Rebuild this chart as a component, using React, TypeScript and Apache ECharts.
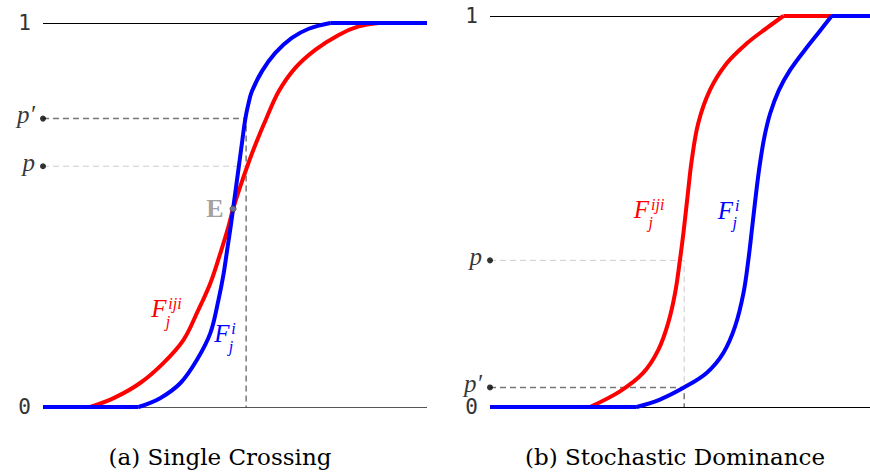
import React, { useEffect, useRef } from "react";
import * as echarts from "echarts";

// ---------- data ----------
const RED = "#ff0000";
const BLUE = "#0000ff";

// Panel (a) Single Crossing — rising part of each CDF (flat at 0 before, flat at 1 after)
const redA: number[][] = [
  [0.123, 0], [0.184, 0.023], [0.253, 0.0625], [0.314, 0.115], [0.366, 0.175],
  [0.401, 0.245], [0.436, 0.323], [0.462, 0.401], [0.483, 0.47], [0.495, 0.516],
  [0.514, 0.575], [0.532, 0.627], [0.553, 0.683], [0.581, 0.75], [0.614, 0.822],
  [0.657, 0.883], [0.709, 0.93], [0.77, 0.969], [0.822, 0.991], [0.874, 1],
];
const blueA: number[][] = [
  [0.249, 0], [0.305, 0.023], [0.358, 0.0625], [0.401, 0.123], [0.436, 0.193],
  [0.457, 0.279], [0.47, 0.345], [0.479, 0.405], [0.488, 0.465], [0.495, 0.516],
  [0.503, 0.575], [0.511, 0.634], [0.519, 0.694], [0.527, 0.751], [0.535, 0.79],
  [0.544, 0.822], [0.57, 0.874], [0.605, 0.922], [0.648, 0.961], [0.692, 0.985],
  [0.748, 1],
];
const pA = 0.627;
const pPrimeA = 0.751;
const crossX_A = 0.529;
const pointE = [0.495, 0.516];

// Panel (b) Stochastic Dominance
const redB: number[][] = [
  [0.263, 0], [0.342, 0.04], [0.403, 0.087], [0.443, 0.146], [0.469, 0.215],
  [0.487, 0.291], [0.5, 0.377], [0.509, 0.445], [0.52, 0.54], [0.531, 0.632],
  [0.548, 0.726], [0.579, 0.811], [0.623, 0.879], [0.676, 0.93], [0.728, 0.969],
  [0.772, 1],
];
const blueB: number[][] = [
  [0.386, 0], [0.447, 0.019], [0.509, 0.049], [0.57, 0.087], [0.614, 0.138],
  [0.645, 0.206], [0.667, 0.291], [0.68, 0.377], [0.69, 0.46], [0.7, 0.545],
  [0.71, 0.62], [0.722, 0.69], [0.737, 0.75], [0.76, 0.81], [0.79, 0.862],
  [0.83, 0.915], [0.865, 0.958], [0.899, 1],
];
const pB = 0.375;
const pPrimeB = 0.05;
const crossX_B = 0.511;

const yTicks = ["0", "1"];
const captions = ["(a) Single Crossing", "(b) Stochastic Dominance"];

// curve labels: grid, anchor x, anchor y, superscript, color
const curveLabels = [
  { grid: 0, x: 0.3016, y: 0.256, sup: "iji", color: RED },
  { grid: 0, x: 0.4656, y: 0.191, sup: "i", color: BLUE },
  { grid: 1, x: 0.3987, y: 0.504, sup: "iji", color: RED },
  { grid: 1, x: 0.6197, y: 0.503, sup: "i", color: BLUE },
];

const MATH = "Liberation Serif";
const TEXT = "DejaVu Serif";

function lineSeries(data: number[][], color: string, gi: number, z: number, smooth: number) {
  return {
    type: "line",
    xAxisIndex: gi,
    yAxisIndex: gi,
    data,
    smooth,
    showSymbol: false,
    symbol: "none",
    lineStyle: { color, width: 4, cap: "butt", join: "round" },
    z,
  };
}

// a CDF: flat at 0 up to its first point, the smooth rise, flat at 1 after its last point
function cdfSeries(data: number[][], color: string, gi: number, z: number) {
  const first = data[0];
  const last = data[data.length - 1];
  return [
    lineSeries([[0, first[1]], first], color, gi, z, 0),
    lineSeries(data, color, gi, z, 0.35),
    lineSeries([last, [1, last[1]]], color, gi, z, 0),
  ];
}

function dashSeries(data: number[][], color: string, width: number, gi: number) {
  return {
    type: "line",
    xAxisIndex: gi,
    yAxisIndex: gi,
    data,
    showSymbol: false,
    symbol: "none",
    lineStyle: { color, width, type: [6, 4] },
    z: 2,
  };
}

function dotSeries(gi: number, pts: { v: number; label: string }[]) {
  return {
    type: "scatter",
    xAxisIndex: gi,
    yAxisIndex: gi,
    clip: false,
    symbolSize: 6,
    itemStyle: { color: "#000" },
    z: 6,
    data: pts.map((p) => ({
      value: [0, p.v],
      label: {
        show: true,
        position: "left",
        distance: 5,
        offset: [0, -4],
        formatter: p.label,
        fontFamily: MATH,
        fontStyle: "italic",
        fontSize: 25,
        color: "#000",
      },
    })),
  };
}

function labelSeries(gi: number) {
  const items = curveLabels.filter((l) => l.grid === gi);
  return {
    type: "custom",
    xAxisIndex: gi,
    yAxisIndex: gi,
    clip: false,
    z: 7,
    data: items.map((l) => [l.x, l.y]),
    renderItem: (params: any, api: any) => {
      const l = items[params.dataIndex];
      const pt = api.coord([api.value(0), api.value(1)]);
      const base = {
        fill: l.color,
        fontFamily: MATH,
        fontStyle: "italic",
        verticalAlign: "middle",
      };
      return {
        type: "group",
        x: pt[0],
        y: pt[1],
        children: [
          { type: "text", style: { ...base, text: "F", x: 0, y: 0, align: "center", fontSize: 25 } },
          { type: "text", style: { ...base, text: l.sup, x: 9.5, y: -5, align: "left", fontSize: 16 } },
          { type: "text", style: { ...base, text: "j", x: 7, y: 12.5, align: "left", fontSize: 16 } },
        ],
      };
    },
  };
}

function yAxis(gi: number, bottomColor: string) {
  return {
    type: "value",
    gridIndex: gi,
    min: 0,
    max: 1,
    interval: 1,
    axisLine: { show: false },
    axisTick: { show: false },
    axisLabel: {
      margin: 12,
      fontFamily: "DejaVu Sans Mono",
      fontSize: 21,
      color: "#333",
      formatter: (v: number) => yTicks[Math.round(v)],
    },
    splitLine: { show: true, lineStyle: { color: [bottomColor, "#000"], width: 1 } },
  };
}

function xAxis(gi: number) {
  return { type: "value", gridIndex: gi, min: 0, max: 1, show: false };
}

function caption(text: string, x: number) {
  return {
    type: "text",
    x,
    y: 457,
    style: {
      text,
      align: "center",
      verticalAlign: "middle",
      fontFamily: TEXT,
      fontSize: 23,
      fill: "#000",
    },
  };
}

export default function App() {
  const ref = useRef<HTMLDivElement>(null);
  useEffect(() => {
    document.body.style.margin = "0";
    if (!ref.current) return;
    const chart = echarts.init(ref.current, undefined, { renderer: "svg" });
    chart.setOption({
      animation: false,
      backgroundColor: "#fff",
      grid: [
        { left: 43, right: 443, top: 23, bottom: 67 },
        { left: 490, right: 0, top: 16, bottom: 67 },
      ],
      xAxis: [xAxis(0), xAxis(1)],
      yAxis: [yAxis(0, "#555"), yAxis(1, "#000")],
      graphic: [caption(captions[0], 220), caption(captions[1], 675)],
      series: [
        // panel a
        dashSeries([[0, pA], [crossX_A, pA]], "#cccccc", 1, 0),
        dashSeries([[0, pPrimeA], [crossX_A, pPrimeA], [crossX_A, 0]], "#777777", 1.5, 0),
        ...cdfSeries(redA, RED, 0, 3),
        ...cdfSeries(blueA, BLUE, 0, 4),
        dotSeries(0, [
          { v: pA, label: "p" },
          { v: pPrimeA, label: "p′" },
        ]),
        {
          type: "scatter",
          xAxisIndex: 0,
          yAxisIndex: 0,
          symbolSize: 6,
          z: 6,
          itemStyle: { color: "#888", borderColor: "#333", borderWidth: 1 },
          data: [pointE],
          label: {
            show: true,
            position: "left",
            distance: 6,
            formatter: "E",
            fontFamily: MATH,
            fontWeight: "bold",
            fontSize: 26,
            color: "#888",
          },
        },
        labelSeries(0),
        // panel b
        dashSeries([[0, pB], [crossX_B, pB], [crossX_B, pPrimeB]], "#cccccc", 1, 1),
        dashSeries([[0, pPrimeB], [crossX_B, pPrimeB], [crossX_B, 0]], "#777777", 1.5, 1),
        ...cdfSeries(redB, RED, 1, 3),
        ...cdfSeries(blueB, BLUE, 1, 4),
        dotSeries(1, [
          { v: pB, label: "p" },
          { v: pPrimeB, label: "p′" },
        ]),
        labelSeries(1),
      ],
    });
    return () => chart.dispose();
  }, []);
  return <div ref={ref} style={{ width: 870, height: 474 }} />;
}
